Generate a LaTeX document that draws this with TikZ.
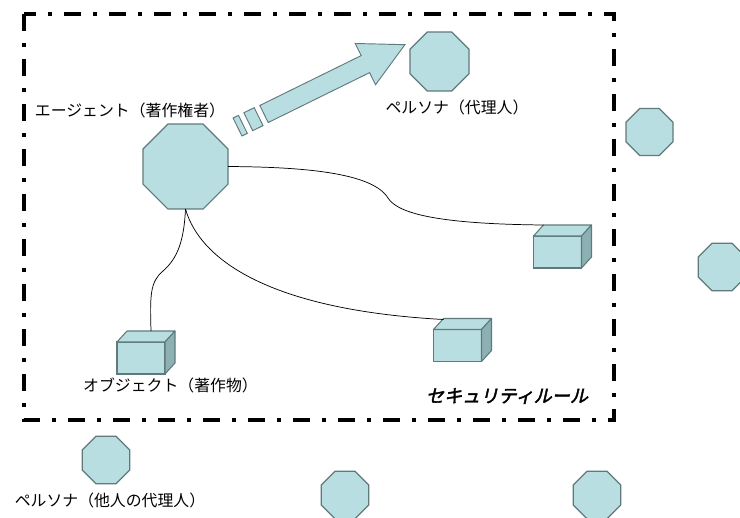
\documentclass[tikz,border=0pt]{standalone}
\usepackage{fontspec}
\usetikzlibrary{shapes.geometric,calc}
\newfontfamily\jp{Noto Sans CJK JP}
\newfontfamily\jpslant[FakeSlant=0.22,FakeBold=2.2]{Noto Sans CJK JP}
\definecolor{shapefill}{RGB}{185,222,226}
\definecolor{shapeline}{RGB}{96,122,124}
\definecolor{sideface}{RGB}{140,176,180}
\tikzset{
  oct/.style={regular polygon, regular polygon sides=8, draw=shapeline, fill=shapefill, line width=0.9pt, inner sep=0pt, outer sep=0pt},
  boxfront/.style={rectangle, draw=shapeline, fill=shapefill, line width=0.8pt, minimum width=36pt, minimum height=24pt, inner sep=0pt, outer sep=0pt},
  face/.style={draw=shapeline, line width=0.8pt, line join=round},
  lbl/.style={font=\jp\fontsize{11.9}{14}\selectfont, inner sep=0pt},
  conn/.style={draw=black, line width=0.55pt},
  frameline/.style={line width=3.2pt, dash pattern=on 12.75pt off 9pt on 3pt off 9pt},
  arrowpart/.style={fill=shapefill, draw=shapeline, line width=0.7pt, line join=miter},
}
\newcommand{\cubefaces}[1]{%
  \filldraw[face, fill=shapefill] (#1.north west) -- ++(10,-11) -- ++(48,0) -- (#1.north east) -- cycle;
  \filldraw[face, fill=sideface] (#1.north east) -- ++(10,-11) -- ++(0,32) -- (#1.south east) -- cycle;
}
\begin{document}
\begin{tikzpicture}[x=0.75pt, y=-0.75pt]
  \clip (0,0) rectangle (740,518);
  \fill[white] (0,0) rectangle (740,518);

  % security frame
  \draw[frameline] (24,14) rectangle (614,420);

  % octagons
  \node[oct, minimum size=69pt] (agent) at (185.5,166.5) {};
  \node[oct, minimum size=48pt] (persona) at (439.5,61.5) {};
  \node[oct, minimum size=38.2pt] (octR) at (649.5,132) {};
  \node[oct, minimum size=38.7pt] (octFR) at (722,267) {};
  \node[oct, minimum size=38.7pt] (octBL) at (106,460) {};
  \node[oct, minimum size=38.7pt] (octBM) at (345,495) {};
  \node[oct, minimum size=38.7pt] (octBR) at (597,495) {};

  % boxes
  \node[boxfront] (boxa) at (141,358) {};
  \node[boxfront] (boxb) at (457.5,345.5) {};
  \node[boxfront] (boxc) at (557.5,252) {};
  \cubefaces{boxa}
  \cubefaces{boxb}
  \cubefaces{boxc}
  \coordinate (aTop) at ($(boxa.north)+(10,-11)$);
  \coordinate (bTop) at ($(boxb.north west)+(10,-10)$);
  \coordinate (cTop) at ($(boxc.north west)+(10,-11)$);

  % connectors
  \draw[conn] (agent.east) .. controls (300,167) and (372,172) .. (388,198)
    .. controls (398,214) and (440,224) .. (cTop);
  \draw[conn] (agent.south) .. controls (200,260) and (270,310) .. (bTop);
  \draw[conn] (agent.south) .. controls (184,240) and (178,258) .. (163,271)
    .. controls (150,282) and (150,295) .. (aTop);

  % block arrow
  \begin{scope}[shift={(264,114)}, rotate=26.2]
    \filldraw[arrowpart] (0,-9.5) -- (113,-9.5) -- (113,-23) -- (157,0) -- (113,23) -- (113,9.5) -- (0,9.5) -- cycle;
    \filldraw[arrowpart] (-17.5,-10) rectangle (-6,10);
    \filldraw[arrowpart] (-29.5,-10) rectangle (-23.5,10);
  \end{scope}

  % labels
  \node[lbl] (agentlbl) at (130,110) {エージェント（著作権者）};
  \node[lbl] (personalbl) at (457,107) {ペルソナ（代理人）};
  \node[lbl] (objlbl) at (170.5,385) {オブジェクト（著作物）};
  \node[lbl] (otherlbl) at (110,500) {ペルソナ（他人の代理人）};
  \node[font=\jpslant\fontsize{13.6}{16}\selectfont, inner sep=0pt] (rulelbl) at (507,396) {セキュリティルール};
\end{tikzpicture}
\end{document}
